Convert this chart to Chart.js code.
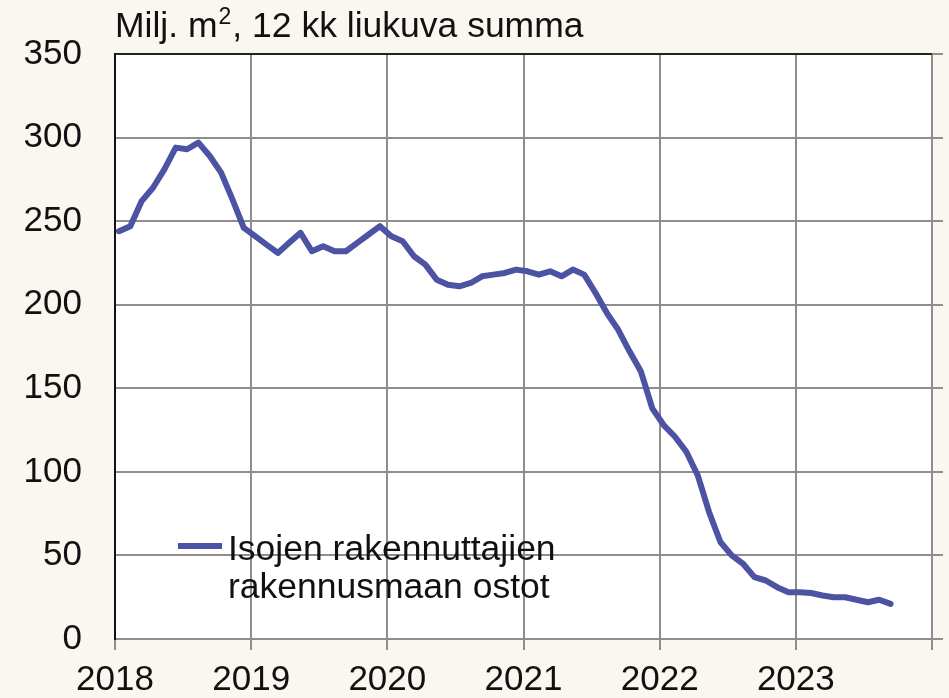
<!DOCTYPE html>
<html>
<head>
<meta charset="utf-8">
<script src="https://cdn.jsdelivr.net/npm/chart.js@4.4.1/dist/chart.umd.min.js"></script>
<style>
  html, body { margin: 0; padding: 0; background: #faf6f0; }
  #wrap { width: 949px; height: 698px; }
</style>
</head>
<body>
<div id="wrap"><canvas id="myChart" width="949" height="698"></canvas></div>
<script>
// Isojen rakennuttajien rakennusmaan ostot, milj. m2, 12 kk liukuva summa
const vuodet = [2018, 2019, 2020, 2021, 2022, 2023, 2024];
const yTicks = [0, 50, 100, 150, 200, 250, 300, 350];
const otsikko = ["Milj. m", "2", ", 12 kk liukuva summa"];
const selite = ["Isojen rakennuttajien", "rakennusmaan ostot"];

// kuukausittain 1/2018 - 9/2023
const ostot = [
  244, 247, 262, 270, 281, 294, 293, 297, 289, 279, 263, 246, // 2018
  241, 236, 231, 237, 243, 232, 235, 232, 232, 237, 242, 247, // 2019
  241, 238, 229, 224, 215, 212, 211, 213, 217, 218, 219, 221, // 2020
  220, 218, 220, 217, 221, 218, 207, 195, 185, 172, 160, 138, // 2021
  128, 121, 112, 98, 76, 58, 50, 45, 37, 35, 31, 28,          // 2022
  28, 27.5, 26, 25, 25, 23.5, 22, 23.5, 21                    // 2023
];

const kuukaudet = ostot.map((v, i) => vuodet[0] + Math.floor(i / 12) + "-" + String(i % 12 + 1).padStart(2, "0"));

const fontti = "'Liberation Sans', Arial, sans-serif";
const viivanVari = "#4b53a2";
const ruudukko = "#8e8e8e";

//******************************************************************************************
// taustat, oikean reunan ulkonevat viivat, otsikko ja selite
const koristeet = {
  id: "koristeet",
  beforeDraw(chart) {
    const { ctx, chartArea: a } = chart;
    ctx.save();
    ctx.fillStyle = "#faf6f0";
    ctx.fillRect(0, 0, chart.width, chart.height);
    ctx.fillStyle = "#ffffff";
    ctx.fillRect(a.left, a.top, a.right - a.left, a.bottom - a.top);
    ctx.restore();
  },
  afterDraw(chart) {
    const { ctx, chartArea: a } = chart;
    const y = chart.scales.y;
    ctx.save();
    ctx.strokeStyle = ruudukko;
    ctx.lineWidth = 2;
    yTicks.forEach(function (t) {
      const py = Math.round(y.getPixelForValue(t));
      ctx.beginPath();
      ctx.moveTo(a.right, py);
      ctx.lineTo(a.right + 11, py);
      ctx.stroke();
    });

    // otsikko, jossa yläindeksi
    ctx.fillStyle = "#111";
    ctx.textBaseline = "alphabetic";
    ctx.font = "35.5px " + fontti;
    let x = a.left;
    ctx.fillText(otsikko[0], x, 37);
    x += ctx.measureText(otsikko[0]).width + 1;
    ctx.font = "23px " + fontti;
    ctx.fillText(otsikko[1], x, 24);
    x += ctx.measureText(otsikko[1]).width + 1;
    ctx.font = "35.5px " + fontti;
    ctx.fillText(otsikko[2], x, 37);

    // selite
    ctx.strokeStyle = viivanVari;
    ctx.lineWidth = 6;
    ctx.beginPath();
    ctx.moveTo(178, 546);
    ctx.lineTo(222, 546);
    ctx.stroke();
    ctx.font = "35.5px " + fontti;
    ctx.fillText(selite[0], 228, 560);
    ctx.fillText(selite[1], 228, 598);
    ctx.restore();
  },
};

const data = {
  datasets: [
    {
      label: selite.join(" "),
      data: ostot.map((v, i) => ({ x: i + 0.35, y: v })),
      borderColor: viivanVari,
      borderWidth: 6,
      borderJoinStyle: "round",
      borderCapStyle: "round",
      pointRadius: 0,
      tension: 0,
      fill: false,
    },
  ],
};

const config = {
  type: "line",
  data: data,
  options: {
    responsive: false,
    animation: false,
    devicePixelRatio: 1,
    layout: { padding: { top: 48, right: 17, left: 0, bottom: 0 } },
    plugins: { legend: { display: false }, tooltip: { enabled: false } },
    scales: {
      x: {
        type: "linear",
        min: 0,
        max: (vuodet.length - 1) * 12,
        afterFit: (s) => { s.height = 59; },
        afterBuildTicks: (s) => { s.ticks = vuodet.map((v, i) => ({ value: i * 12 })); },
        ticks: {
          callback: (v) => (v < (vuodet.length - 1) * 12 ? String(vuodet[v / 12]) : ""),
          font: { family: fontti, size: 35 },
          color: "#111",
          padding: 9,
          maxRotation: 0,
          autoSkip: false,
        },
        grid: { color: ruudukko, lineWidth: 2, tickLength: 11, drawTicks: true },
        border: { color: ruudukko, width: 2 },
      },
      y: {
        min: 0,
        max: 350,
        afterFit: (s) => { s.width = 115; },
        afterBuildTicks: (s) => { s.ticks = yTicks.map((v) => ({ value: v })); },
        ticks: {
          font: { family: fontti, size: 35 },
          color: "#111",
          padding: 33,
        },
        grid: {
          color: (c) => (c.tick && c.tick.value === 350 ? "#222" : ruudukko),
          lineWidth: 2,
          drawTicks: false,
        },
        border: { color: "#111", width: 2 },
      },
    },
  },
  plugins: [koristeet],
};

const myChart = new Chart(document.getElementById("myChart").getContext("2d"), config);
</script>
</body>
</html>
